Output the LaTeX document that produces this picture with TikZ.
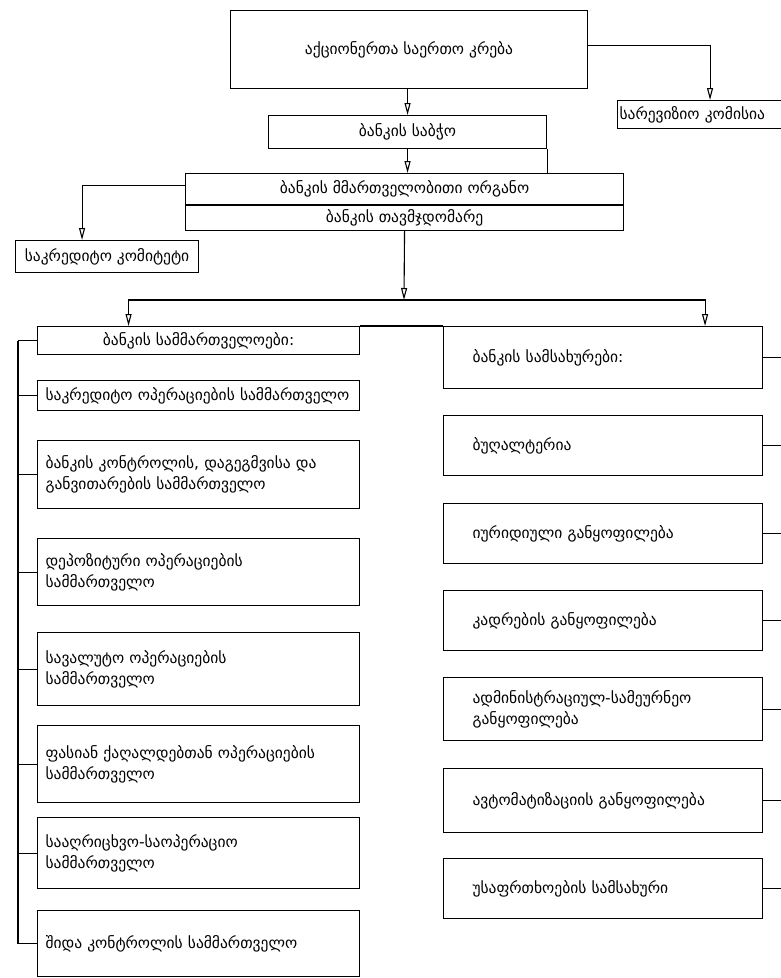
\documentclass[tikz,border=0pt]{standalone}
\usepackage{fontspec}
\setmainfont{DejaVu Sans}
\usetikzlibrary{positioning,arrows.meta}

\begin{document}
\begin{tikzpicture}[x=1pt, y=-1pt, line width=1.1pt,
    every node/.style={font=\fontsize{15.5}{21}\selectfont},
    box/.style={draw, rectangle, anchor=north west, inner sep=0pt},
    lbox/.style={box, minimum width=322pt, text width=306pt, align=left, inner xsep=8pt},
    rbox/.style={box, minimum width=319pt, text width=261pt, align=left, inner xsep=29pt},
    arr/.style={-{Triangle[open, length=12pt, width=6pt]}}]
  \useasboundingbox (0,0) rectangle (780,978);
  %----- 基本參數 -----
  \def\dept#1#2#3#4{ % (name, top, height, text)
    \node[lbox, minimum height=#3pt] (#1) at (37,#2) {#4};
  }
  \def\serv#1#2#3#4{ % (name, top, height, text)
    \node[rbox, minimum height=#3pt] (#1) at (443,#2) {#4};
  }
  \coordinate (lbus) at (18,0);
  \coordinate (rbus) at (785,0);

  %----- top levels -----
  \node[box, minimum width=357pt, minimum height=78pt] (meeting) at (230,10) {აქციონერთა საერთო კრება};
  \node[box, minimum width=185pt, minimum height=28pt, text width=181pt, align=left, inner xsep=2pt] (revis) at (617,100) {სარევიზიო კომისია};
  \node[box, minimum width=278pt, minimum height=33pt] (council) at (268,115) {ბანკის საბჭო};
  \node[box, minimum width=438pt, minimum height=31pt] (organ) at (185,173) {ბანკის მმართველობითი ორგანო};
  \node[box, minimum width=438pt, minimum height=25pt, below=0pt of organ] (chair) {ბანკის თავმჯდომარე};
  \node[box, minimum width=183pt, minimum height=32pt] (credit) at (15,240) {საკრედიტო კომიტეტი};
  \coordinate (hub) at (404,300);

  %----- 左: სამმართველოები -----
  \node[box, minimum width=322pt, minimum height=28pt] (depts) at (37,326) {ბანკის სამმართველოები:};
  \dept{credop}{380}{30}{საკრედიტო ოპერაციების სამმართველო}
  \dept{plan}{440}{68}{ბანკის კონტროლის, დაგეგმვისა და\\განვითარების სამმართველო}
  \dept{depo}{538}{67}{დეპოზიტური ოპერაციების\\სამმართველო}
  \dept{valut}{632}{73}{სავალუტო ოპერაციების\\სამმართველო}
  \dept{secur}{725}{77}{ფასიან ქაღალდებთან ოპერაციების\\სამმართველო}
  \dept{acct}{817}{71}{სააღრიცხვო-საოპერაციო\\სამმართველო}
  \dept{intctl}{910}{66}{შიდა კონტროლის სამმართველო}

  %----- 右: სამსახურები -----
  \serv{servs}{326}{62}{ბანკის სამსახურები:}
  \serv{books}{415}{60}{ბუღალტერია}
  \serv{legal}{503}{60}{იურიდიული განყოფილება}
  \serv{staff}{590}{60}{კადრების განყოფილება}
  \serv{admin}{677}{63}{ადმინისტრაციულ-სამეურნეო\\განყოფილება}
  \serv{autom}{768}{64}{ავტომატიზაციის განყოფილება}
  \serv{guard}{858}{60}{უსაფრთხოების სამსახური}

  %----- connectors -----
  \draw[arr] (council.north |- meeting.south) -- (council.north);
  \draw[arr] ([yshift=4pt]meeting.east) -| (revis.north);
  \draw[arr] (council.south) -- (council.south |- organ.north);
  \draw (council.south east) -- (council.south east |- organ.north);
  \draw[arr] ([yshift=4pt]organ.west) -| ([xshift=-25pt]credit.north);
  \draw[arr] (chair.south) -- (hub);
  \draw[arr] (hub) -| ([xshift=-70pt]depts.north);
  \draw[arr] (hub) -| ([xshift=102pt]servs.north);
  \draw (depts.north east) -- (servs.north west);

  % left bus
  \foreach \b in {depts, credop, plan, depo, valut, secur, acct, intctl}
    \draw (\b.west) -- (\b.west -| lbus);
  \draw (depts.west -| lbus) -- (intctl.west -| lbus);
  % right ticks
  \foreach \b in {servs, books, legal, staff, admin, autom, guard}
    \draw (\b.east) -- (\b.east -| rbus);
\end{tikzpicture}
\end{document}
